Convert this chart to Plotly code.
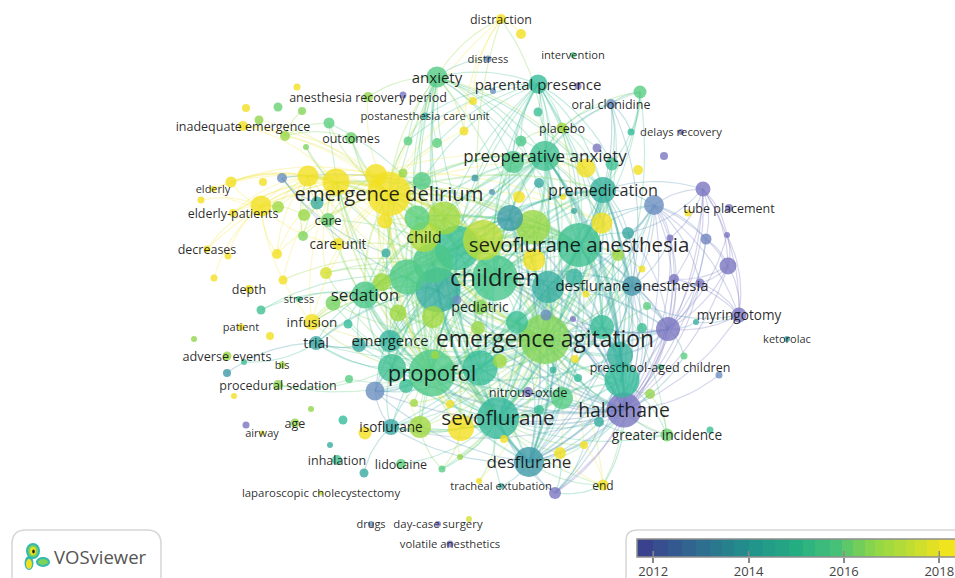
import plotly.graph_objects as go
from plotly.colors import sample_colorscale
import numpy as np

node_x = [501,488,573,437,538,611,368,425,243,351,562,681,545,603,213,389,233,729,328,579,424,338,207,495,249,632,299,365,480,739,312,241,787,316,390,545,227,660,282,432,278,528,624,498,295,262,391,667,337,401,529,321,501,603,371,438,450,
          297,246,278,302,259,329,285,306,403,473,464,408,437,308,336,376,403,422,282,263,231,201,261,278,317,304,385,417,444,303,386,277,228,214,283,326,475,382,407,433,457,438,483,
          521,493,578,640,538,521,513,597,631,664,586,612,638,539,492,519,563,703,654,574,688,510,533,602,628,706,727,670,728,618,642,534,574,674,700,548,586,647,668,696,642,602,573,546,517,575,620,622,553,578,684,719,500,480,650,562,539,599,710,584,560,555,
          261,333,348,270,194,244,227,359,349,375,392,406,234,311,246,343,330,365,420,461,450,414,364,442,460,479,469,398,433,478,457,435,504]
node_y = [19,59,55,77,84,104,97,116,126,138,128,132,156,190,189,194,213,208,220,245,237,244,249,278,289,286,299,295,307,315,322,327,339,343,341,339,356,367,365,373,385,392,410,418,423,433,427,435,460,464,462,493,486,485,524,524,544,
          87,108,107,111,120,123,136,147,95,101,131,141,143,176,182,175,173,181,178,182,182,200,206,207,203,215,221,218,218,236,253,254,256,278,280,273,178,282,277,263,248,290,240,
          34,91,86,92,112,141,162,148,132,156,168,164,170,183,192,197,197,189,205,211,213,218,227,223,233,239,235,238,266,255,269,260,277,279,283,287,294,306,329,322,328,327,319,315,322,359,355,380,370,378,356,375,361,368,394,398,410,422,430,445,453,493,
          310,303,324,336,339,362,373,345,379,391,368,386,396,409,425,420,445,433,427,428,404,403,473,469,457,481,519,313,317,328,300,355,439]
node_size = [10,7,6,21,19,10,10,7,10,12,11,6,30,26,6,44,8,8,14,44,30,12,7,46,8,20,6,27,15,15,16,7,6,14,22,50,9,6,7,47,10,10,35,42,9,5,16,13,10,10,30,5,6,11,6,6,7,
             7,8,9,8,9,11,10,6,7,8,9,9,10,21,27,22,9,18,10,8,11,7,21,12,13,12,15,25,33,10,9,10,7,7,9,12,7,18,35,40,45,45,40,
             10,6,7,13,9,11,22,9,7,8,19,13,10,10,6,12,6,15,20,6,7,26,34,21,12,11,6,7,17,12,7,22,17,10,9,32,7,8,24,6,10,24,6,11,22,8,26,35,7,8,7,7,14,35,10,22,10,10,7,8,12,12,
             9,15,9,8,6,6,8,14,8,19,28,14,6,6,7,9,6,13,22,26,8,8,9,7,6,6,6,17,22,14,9,8,8]
node_year = [2018,2013,2015.8,2015.8,2015,2013,2016.8,2014.5,2018,2016.3,2017,2012,2015.3,2014.7,2018,2018,2018,2012,2016.2,2015.3,2017.2,2018,2018,2015.5,2017.9,2013.8,2015.2,2015.6,2016.6,2012,2018,2018,2014.3,2014.4,2014.8,2016.6,2016.9,2015.5,2017,2015.7,2016.7,2012,2012,2014.9,2016.8,2017.8,2014.4,2016.3,2015.3,2016,2014,2017.4,2014.6,2018,2013,2012,2012,
             2018,2018,2016.2,2016.6,2016.8,2016,2016.9,2016.5,2012,2018,2018,2016,2016,2018,2018,2018,2016.9,2015.8,2013,2018,2018,2018,2018,2017,2014.6,2016.9,2018,2016,2017,2016.5,2014.5,2018,2018,2018,2018,2017.6,2014,2017,2015.7,2015.6,2015.2,2014.6,2017.3,
             2018,2013,2012,2015.9,2015.2,2015.6,2015.6,2012,2015,2012,2018,2015.3,2018,2014.5,2013.6,2018,2018,2012,2013,2014.4,2018,2014.1,2016.9,2018,2014.4,2012.6,2012,2012,2012,2017,2018,2018,2014.7,2012,2012,2014.6,2018,2016,2012,2014.6,2015.2,2015.1,2012,2013,2015.2,2018,2014.7,2015,2014.7,2015,2016,2013,2017,2015.1,2016.8,2015.9,2015.2,2014.6,2015.2,2018,2018,2012,
             2015.3,2016.4,2015,2018,2016.8,2015.2,2014,2014.5,2015.9,2013,2015.3,2015.2,2018,2016.8,2012,2015,2014.6,2018,2017,2018,2018,2017,2014.5,2015.9,2016.9,2018,2017.6,2017,2017,2016.9,2013,2017,2018]

labels = ["distraction","distress","intervention","anxiety","parental presence","oral clonidine","anesthesia recovery period","postanesthesia care unit","inadequate emergence","outcomes","placebo","delays recovery","preoperative anxiety","premedication","elderly","emergence delirium","elderly-patients","tube placement","care","sevoflurane anesthesia","child","care-unit","decreases","children","depth","desflurane anesthesia","stress","sedation","pediatric","myringotomy","infusion","patient","ketorolac","trial","emergence","emergence agitation","adverse events","preschool-aged children","bis","propofol","procedural sedation","nitrous-oxide","halothane","sevoflurane","age","airway","isoflurane","greater incidence","inhalation","lidocaine","desflurane","laparoscopic cholecystectomy","tracheal extubation","end","drugs","day-case surgery","volatile anesthetics"]
label_sizes = [12.5,11.3,11.2,15,15,12.5,12.5,11.3,12.5,12.5,12.5,11.3,17,16.2,11,20.2,12.5,12.5,13.5,20.5,16,13.7,12.5,23.7,12.5,14.9,11,17,14,13.6,13.5,11,11,14,14.8,22.8,12.7,12.5,11,22,12.5,12.7,19.4,20.7,12.5,11,13.6,13.7,12.5,12.5,17,11.4,11.2,12,11,11.4,11.3]

edge_hubs = {
    23:[3,4,12,13,15,19,25,27,34,35,39,42,43,46,50,18,21,30,33,10,105,106,113,119,121,122,123,129,131,135,141,144,146,147,153,155,70,71,72,74,83,84,85,92,94,163,172,180,181,189,190,191,28,138,118,171],
    35:[3,4,12,13,15,19,20,25,27,34,39,42,43,46,50,30,33,47,53,10,70,71,72,83,84,85,94,95,96,97,98,99,105,106,111,113,118,121,122,123,124,129,130,131,132,135,138,140,141,144,146,147,148,149,152,153,154,155,156,157,159,160,163,169,172,173,180,181,182,183,185,186,187,189,190,191,193,194,137],
    39:[3,4,12,13,15,19,20,25,27,34,42,43,46,50,33,30,18,21,71,72,84,85,87,92,94,95,96,97,99,121,122,123,129,135,141,144,146,147,153,155,163,164,169,170,171,173,180,181,182,183,190,193,194,118,40],
    43:[3,4,12,13,15,19,20,25,27,34,42,46,50,47,53,71,72,83,85,96,97,99,121,122,123,135,141,146,147,155,156,157,159,160,172,180,181,185,186,187,52,49,161,118],
    19:[3,4,5,10,12,13,15,20,25,27,34,42,46,50,47,71,72,83,84,85,95,96,97,98,99,103,111,113,118,119,121,122,123,124,129,130,132,135,138,140,141,144,146,147,153,155,181,190],
    15:[8,6,9,18,20,21,30,27,70,71,72,73,74,79,81,82,83,84,85,86,88,92,94,95,96,97,99,7,3,12,13,68,69,66,67,110,123,131,122,180,181,62,61,63],
    71:[70,72,79,77,16,8,14,22,21,18,30,80,82,86,88,91,92,83,85,99,131,75],
    72:[70,79,77,8,16,21,18,83,84,85,99,73,131,123,110],
    70:[79,77,16,14,21,18,80,82,86,88,83,99],
    79:[77,14,16,78,22,80,82,88,21,30,89,90],
    75:[81,87,121,98],
    63:[8,9,62,60],
    64:[71,96],
    62:[97,39],
    9:[96,84],
    12:[3,4,5,10,13,103,104,105,106,111,110,25,42,50,34,27,84,85,74,97,96,121,122,123,141,146,147,153,172,180],
    13:[3,4,5,10,103,111,118,124,25,42,50,27,34,97,121,122,123,129,135,141,144,146,147,153],
    4:[3,104,105,106,10,121,97,111,141,147,68,69,96,74,7],
    3:[68,69,105,106,110,7,74,84,96,97,66,67,1,0,6,153,172],
    0:[100,66,67,23,12,15],
    103:[5,10,108,111,141],
    5:[10,108,25,123],
    10:[105,111],
    42:[138,29,118,117,25,128,133,134,127,125,161,53,154,47,146,147,50,171,46,41,124,142,143,137,140,141,144,153,155,157,132,150,151,159,160,152,172,96,98,97,121,135],
    138:[29,128,117,133,134,127,125,118,126,161,50,25,150,137,140,141,139,124,143,142,146],
    117:[118,125,126,127,128,133,124,13,29],
    128:[125,118,126,29,133,134],
    29:[134,133,139,118,137,126],
    118:[124,25,50,127,125,133,134,132],
    25:[124,129,127,133,134,132,50,136,140,137,146],
    50:[161,160,159,46,171,52,53,153,155,156,157,146,147,98,96,121,135,144],
    161:[53,159,160,146,147],
    53:[159,160,147],
    47:[147,154,157],
    33:[168,167,27,34,172,98,169],
    40:[172,170],
    171:[46,172,96,153,98,144,173],
    46:[180,181,184,172,153,155],
    27:[34,84,85,95,96,97,98,99,94,163,164,169,172,190,30,162,26],
    34:[95,96,97,98,172,169,190],
    30:[94,163,164,98],
    162:[95],
    180:[181,185,153],
    181:[153,155,186,185],
    95:[96,97,98,99,84,85,189,190,163,92],
    96:[97,98,99,84,85,121,122,131,144,190,191,91],
    97:[98,99,84,85,121,122,131,135,144,153],
    98:[99,121,122,144,190,191,172,153],
    99:[84,85,121,122,131,135],
    144:[146,141,147,153,155,135,122,121,148,149],
    141:[146,147,135,129,132],
    146:[147],
    153:[155,172],
}

bar_years = [2011.66,2012.0,2012.3,2012.6,2012.9,2013.2,2013.45,2013.7,2014.0,2014.3,2014.55,2014.85,2015.15,2015.4,2015.7,2015.95,2016.2,2016.45,2016.65,2016.85,2017.05,2017.3,2017.5,2017.75,2018.0,2018.33]
tick_years = [2012,2014,2016,2018]

BAR_SCALE = [[0,"#3c3b8e"],[0.1,"#35558f"],[0.2,"#2f6c8e"],[0.35,"#21908c"],[0.5,"#25ad82"],[0.62,"#45c07a"],[0.75,"#8fd648"],[0.88,"#c9de2e"],[0.95,"#e9e121"],[1,"#f7e61c"]]
NODE_SCALE = [[0,"#7a75c0"],[0.16,"#6a8fbf"],[0.32,"#3f99a8"],[0.48,"#35bb9a"],[0.64,"#5ccf80"],[0.8,"#a0d840"],[0.9,"#d8e030"],[0.96,"#f2e020"],[1,"#f4e224"]]
YMIN, YMAX = 2012, 2018.25

def year_color(y):
    return sample_colorscale(NODE_SCALE, [(min(max(y, YMIN), YMAX) - YMIN) / (YMAX - YMIN)])[0]

groups = {}
for hub, targets in edge_hubs.items():
    for t in targets:
        x0, y0, x1, y1 = node_x[hub], node_y[hub], node_x[t], node_y[t]
        mx, my = (x0 + x1) / 2, (y0 + y1) / 2
        px, py = -(y1 - y0), x1 - x0
        if px * (mx - 500) + py * (my - 290) < 0:
            px, py = -px, -py
        cx, cy = mx + 0.16 * px, my + 0.16 * py
        s = np.linspace(0, 1, 13)
        xs = (1 - s) ** 2 * x0 + 2 * s * (1 - s) * cx + s ** 2 * x1
        ys = (1 - s) ** 2 * y0 + 2 * s * (1 - s) * cy + s ** 2 * y1
        yr = round((node_year[hub] + node_year[t]) / 2 * 2) / 2
        heavy = node_size[hub] >= 24 and node_size[t] >= 24
        g = groups.setdefault((yr, heavy), ([], []))
        g[0].extend(xs.tolist() + [None])
        g[1].extend(ys.tolist() + [None])

fig = go.Figure()
for (yr, heavy), (xs, ys) in sorted(groups.items(), key=lambda kv: kv[0][1]):
    alpha = 0.24 if yr >= 2017.5 else 0.3
    c = year_color(yr).replace("rgb(", "rgba(").replace(")", f",{alpha})")
    fig.add_trace(go.Scatter(x=xs, y=ys, mode="lines", hoverinfo="skip", showlegend=False,
                             line=dict(color=c, width=1.9 if heavy else 1.2)))

order = np.argsort(-np.array(node_size), kind="stable")
fig.add_trace(go.Scatter(
    x=[node_x[i] for i in order], y=[node_y[i] for i in order], mode="markers",
    hoverinfo="skip", showlegend=False,
    marker=dict(size=[node_size[i] for i in order], color=[node_year[i] for i in order],
                colorscale=NODE_SCALE, cmin=YMIN, cmax=YMAX, opacity=0.8, line=dict(width=0))))

label_y = [node_y[i] + 1 + 0.05 * label_sizes[i] for i in range(len(labels))]
fig.add_trace(go.Scatter(
    x=node_x[:len(labels)], y=label_y, mode="text", text=labels,
    textposition="middle center", hoverinfo="skip", showlegend=False,
    textfont=dict(family="Open Sans", size=label_sizes, color="rgba(10,10,10,0.88)")))

fig.add_trace(go.Heatmap(x=bar_years, y=[0, 1], z=[[(a + b) / 2 for a, b in zip(bar_years[:-1], bar_years[1:])]],
                         colorscale=BAR_SCALE, zmin=2011.66, zmax=2018.33, showscale=False,
                         hoverinfo="skip", xaxis="x2", yaxis="y2"))

def rounded(x0, y0, x1, y1, r):
    return (f"M {x0} {y1} L {x0} {y0+r} Q {x0} {y0} {x0+r} {y0} L {x1-r} {y0} "
            f"Q {x1} {y0} {x1} {y0+r} L {x1} {y1}")

shapes = [
    dict(type="path", path=rounded(12, 530, 161, 590, 14), line=dict(color="#d6d6d6", width=1.5), layer="below"),
    dict(type="path", path=rounded(626, 530, 975, 590, 11), line=dict(color="#d6d6d6", width=1.5), layer="below"),
    dict(type="rect", x0=637, x1=960, y0=539, y1=557, line=dict(color="#8f8f8f", width=1.5), layer="above"),
]
for t in tick_years:
    shapes.append(dict(type="line", xref="x2", yref="y", x0=t, x1=t, y0=551, y1=557,
                       line=dict(color="#8a8a8a", width=1.5), layer="above"))
for cx, cy, rx, ry, col in [(33, 551, 7, 8, "#35b8b0"), (29, 563, 4.5, 7, "#35b8b0"), (43, 562, 7, 5, "#35b8b0"),
                            (33, 551, 5, 6, "#7dd35a"), (29, 564, 3, 5, "#f0e020"), (43, 562, 5, 3, "#7dd35a"),
                            (33, 551, 3, 4, "#f0e020"), (33.5, 551.5, 1.3, 2, "#222222")]:
    shapes.append(dict(type="circle", x0=cx - rx, x1=cx + rx, y0=cy - ry, y1=cy + ry,
                       fillcolor=col, line=dict(width=0), layer="above"))

fig.update_layout(
    width=955, height=578, autosize=False, margin=dict(l=0, r=0, t=0, b=0),
    paper_bgcolor="white", plot_bgcolor="white", showlegend=False, shapes=shapes,
    font=dict(family="Open Sans"),
    xaxis=dict(range=[0, 955], domain=[0, 1], visible=False, fixedrange=True),
    yaxis=dict(range=[578, 0], domain=[0, 1], visible=False, fixedrange=True),
    xaxis2=dict(range=[2011.66, 2018.33], domain=[637 / 955, 1], anchor="y2", automargin=False,
                tickvals=tick_years, ticktext=[str(t) for t in tick_years], ticks="outside", ticklen=5,
                ticklabelstandoff=-3,
                tickwidth=1.5, tickcolor="#8a8a8a", tickfont=dict(family="Open Sans", size=13, color="#444444"),
                showgrid=False, zeroline=False, showline=False, fixedrange=True),
    yaxis2=dict(range=[0, 1], domain=[(578 - 557) / 578, (578 - 539) / 578], anchor="x2", visible=False, fixedrange=True),
    annotations=[dict(x=100, y=556, xref="x", yref="y", text="VOSviewer", showarrow=False,
                      font=dict(family="Open Sans", size=18.5, color="#555555"))],
)
fig.write_html("out.html", config=dict(displayModeBar=False),
               post_script="document.body.style.margin='0';document.body.style.overflow='hidden';")
